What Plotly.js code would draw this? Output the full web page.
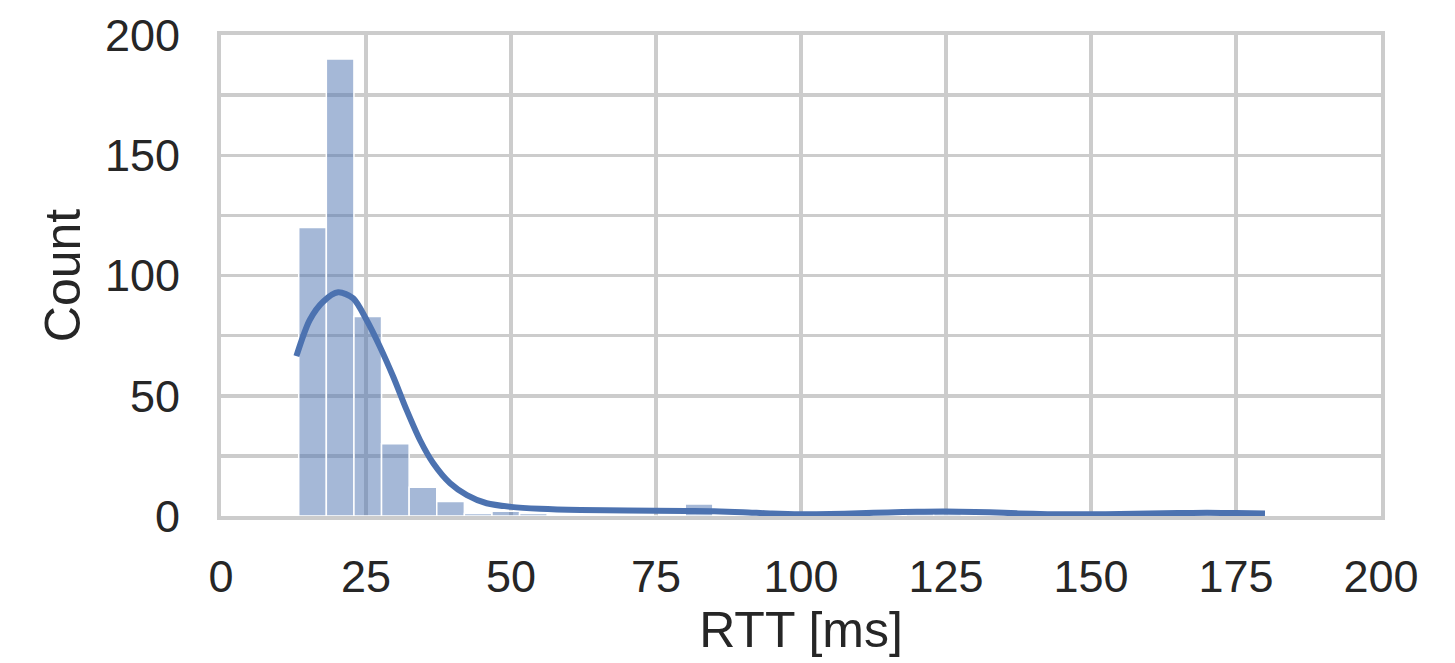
<!DOCTYPE html>
<html>
<head>
<meta charset="utf-8">
<script src="https://cdn.plot.ly/plotly-3.0.1.min.js"></script>
<style>html,body{margin:0;padding:0;background:#fff;}#chart{width:1455px;height:663px;}</style>
</head>
<body>
<div id="chart"></div>
<script>
// Histogram of RTT values (35 equal bins from binStart, width binWidth)
const binStart = 13.4;
const binWidth = 4.76;
const binCounts = [120, 190, 83, 30, 12, 6, 1, 2, 1, 0,
                   0, 0, 0, 0, 5, 0, 0, 0, 0, 0,
                   0, 0, 1, 1, 0, 0, 0, 0, 0, 0,
                   0, 0, 1, 0, 1];
// KDE curve (scaled to counts)
const kdeX = [13.0, 15.3, 17.6, 20.2, 22.8, 25.1, 27.4, 29.7, 32.0, 34.3, 36.6, 39.5, 42.4, 45.8, 50,
              55, 62, 70, 80, 85, 90, 95, 100, 105, 110, 115, 120, 125, 130, 135, 140, 145, 150,
              155, 160, 165, 170, 175, 180];
const kdeY = [66.5, 81.5, 89.1, 93.0, 90.5, 81.5, 70.4, 57.9, 44.1, 31.6, 21.9, 13.6, 8.7, 5.3, 3.8,
              3, 2.5, 2.3, 2.1, 2, 1.6, 1.0, 0.7, 0.8, 1.1, 1.5, 1.8, 1.9, 1.7, 1.3, 0.9, 0.7, 0.7,
              0.8, 1.0, 1.2, 1.3, 1.2, 1.0];
const xTicks = [0, 25, 50, 75, 100, 125, 150, 175, 200];
const yTicks = [0, 50, 100, 150, 200];

const binCenters = binCounts.map((_, i) => binStart + binWidth * (i + 0.5));

const blue = '#4c72b0';
const grid = '#cccccc';
const font = 'Liberation Sans, Arial, sans-serif';

const traces = [
  {
    type: 'bar', x: binCenters, y: binCounts, width: binWidth,
    marker: {color: 'rgba(76,114,176,0.5)', line: {color: '#ffffff', width: 1.5}},
    hoverinfo: 'x+y', showlegend: false
  },
  {
    type: 'scatter', mode: 'lines', x: kdeX, y: kdeY,
    line: {color: blue, width: 6, shape: 'spline', smoothing: 0.8},
    showlegend: false
  }
];

const layout = {
  width: 1455, height: 663,
  margin: {l: 221, r: 74, t: 35, b: 147},
  paper_bgcolor: '#ffffff', plot_bgcolor: '#ffffff',
  font: {family: font, color: '#262626', size: 45},
  bargap: 0,
  xaxis: {
    range: [0, 200], tickmode: 'array', tickvals: xTicks, ticktext: xTicks.map(String),
    showgrid: true, gridcolor: grid, gridwidth: 3.5, zeroline: false,
    showline: true, mirror: true, linecolor: grid, linewidth: 4,
    ticks: 'outside', ticklen: 18, tickcolor: 'rgba(0,0,0,0)',
    tickfont: {size: 45, family: font, color: '#262626'},
    title: {text: 'RTT [ms]', font: {size: 50, family: font, color: '#262626'}, standoff: 12}
  },
  yaxis: {
    range: [0, 200], tickmode: 'array', tickvals: yTicks, ticktext: yTicks.map(String),
    showgrid: true, gridcolor: grid, gridwidth: 3.5, zeroline: false,
    minor: {dtick: 25, tick0: 0, showgrid: true, gridcolor: grid, gridwidth: 3.5, ticks: ''},
    showline: true, mirror: true, linecolor: grid, linewidth: 4,
    ticks: 'outside', ticklen: 28, tickcolor: 'rgba(0,0,0,0)',
    tickfont: {size: 45, family: font, color: '#262626'},
    title: {text: 'Count', font: {size: 50, family: font, color: '#262626'}, standoff: 9}
  }
};

Plotly.newPlot('chart', traces, layout, {displayModeBar: false, staticPlot: true});
</script>
</body>
</html>
